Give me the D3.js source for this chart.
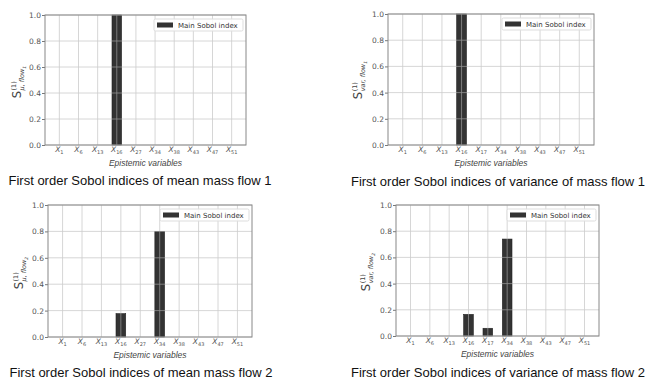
<!DOCTYPE html>
<html>
<head>
<meta charset="utf-8">
<script src="https://cdn.jsdelivr.net/npm/d3@7"></script>
<style>
  body { margin: 0; background: #fff; }
  svg { display: block; }
</style>
</head>
<body>
<div id="chart"></div>
<script>
// Category labels (subscript numbers of X)
const varsMean = ['1', '6', '13', '16', '27', '34', '38', '43', '47', '51'];
const varsVar = ['1', '6', '13', '16', '17', '34', '38', '43', '47', '51'];

// First order Sobol indices
const meanFlow1 = [0, 0, 0, 1.0, 0, 0, 0, 0, 0, 0];
const varFlow1 = [0, 0, 0, 1.0, 0, 0, 0, 0, 0, 0];
const meanFlow2 = [0, 0, 0, 0.177, 0, 0.80, 0, 0, 0, 0];
const varFlow2 = [0, 0, 0, 0.165, 0.059, 0.74, 0, 0, 0, 0];

const yTicks = [0, 0.2, 0.4, 0.6, 0.8, 1.0];
const legendLabel = 'Main Sobol index';
const xLabel = 'Epistemic variables';

const panels = [
  { cats: varsMean, values: meanFlow1, sub: 'μ, flow', subIdx: '1',
    title: 'First order Sobol indices of mean mass flow 1',
    box: { left: 45, right: 246, top: 15, bottom: 145 }, ylab: { x: 17, y: 82 }, titleX: 140, titleY: 185 },
  { cats: varsVar, values: varFlow1, sub: 'var, flow', subIdx: '1',
    title: 'First order Sobol indices of variance of mass flow 1',
    box: { left: 388, right: 594, top: 14, bottom: 145 }, ylab: { x: 358, y: 80 }, titleX: 498, titleY: 186 },
  { cats: varsMean, values: meanFlow2, sub: 'μ, flow', subIdx: '2',
    title: 'First order Sobol indices of mean mass flow 2',
    box: { left: 48, right: 252, top: 205, bottom: 337 }, ylab: { x: 19, y: 273 }, titleX: 141, titleY: 377 },
  { cats: varsVar, values: varFlow2, sub: 'var, flow', subIdx: '2',
    title: 'First order Sobol indices of variance of mass flow 2',
    box: { left: 396, right: 599, top: 205, bottom: 336 }, ylab: { x: 366, y: 272 }, titleX: 498, titleY: 377 }
];

const svg = d3.select('#chart').append('svg')
  .attr('width', 652)
  .attr('height', 381);

const tickFont = 'DejaVu Sans, sans-serif';

panels.forEach(p => {
  const b = p.box;
  const g = svg.append('g');

  const x = d3.scaleBand()
    .domain(p.cats)
    .range([b.left, b.right])
    .paddingInner(0.5)
    .paddingOuter(0.5);

  const y = d3.scaleLinear()
    .domain([0, 1])
    .range([b.bottom, b.top]);

  // bars
  g.selectAll('rect.bar')
    .data(p.values.map((v, i) => ({ cat: p.cats[i], v })))
    .enter()
    .append('rect')
    .attr('class', 'bar')
    .attr('x', d => x(d.cat))
    .attr('y', d => y(d.v))
    .attr('width', x.bandwidth())
    .attr('height', d => y(0) - y(d.v))
    .attr('fill', '#333333')
    .attr('stroke', '#222')
    .attr('stroke-width', 0.6);

  // grid (drawn over bars)
  const grid = g.append('g').attr('stroke', '#b8b8b8').attr('stroke-width', 0.8).attr('opacity', 0.7);
  p.cats.forEach(c => {
    const cx = x(c) + x.bandwidth() / 2;
    grid.append('line').attr('x1', cx).attr('x2', cx).attr('y1', b.top).attr('y2', b.bottom);
  });
  yTicks.forEach(t => {
    grid.append('line').attr('x1', b.left).attr('x2', b.right).attr('y1', y(t)).attr('y2', y(t));
  });

  // y axis
  const yAxis = g.append('g')
    .attr('transform', `translate(${b.left},0)`)
    .call(d3.axisLeft(y).tickValues(yTicks).tickFormat(d3.format('.1f')).tickSize(3).tickPadding(1));
  yAxis.select('.domain').remove();
  yAxis.selectAll('line').attr('stroke', '#777');
  yAxis.selectAll('text')
    .attr('font-family', tickFont)
    .attr('font-size', 7.5)
    .attr('fill', '#555');

  // x axis with math-style labels
  const xAxis = g.append('g')
    .attr('transform', `translate(0,${b.bottom})`)
    .call(d3.axisBottom(x).tickSize(0).tickPadding(2).tickFormat(''));
  xAxis.select('.domain').remove();
  xAxis.selectAll('.tick').each(function(c) {
    const t = d3.select(this).select('text')
      .attr('font-family', tickFont)
      .attr('font-size', 7.5)
      .attr('fill', '#555')
      .attr('text-anchor', 'middle');
    t.append('tspan').attr('font-style', 'italic').text('X');
    t.append('tspan').attr('font-size', 5).attr('dy', 1.5).text(c);
  });

  // frame
  g.append('rect')
    .attr('x', b.left).attr('y', b.top)
    .attr('width', b.right - b.left).attr('height', b.bottom - b.top)
    .attr('fill', 'none')
    .attr('stroke', '#888')
    .attr('stroke-width', 1);

  // legend
  const lg = g.append('g').attr('transform', `translate(${b.right - 92},${b.top + 4})`);
  lg.append('rect')
    .attr('width', 89).attr('height', 12)
    .attr('fill', '#fff').attr('fill-opacity', 0.85)
    .attr('stroke', '#ddd').attr('rx', 1.5);
  lg.append('rect')
    .attr('x', 3).attr('y', 3.5).attr('width', 16).attr('height', 5)
    .attr('fill', '#333');
  lg.append('text')
    .attr('x', 24).attr('y', 8.8)
    .attr('font-family', tickFont)
    .attr('font-size', 7)
    .attr('fill', '#333')
    .text(legendLabel);

  // x label
  g.append('text')
    .attr('x', (b.left + b.right) / 2)
    .attr('y', b.bottom + 21)
    .attr('text-anchor', 'middle')
    .attr('font-family', 'Liberation Sans, Arial, sans-serif')
    .attr('font-style', 'italic')
    .attr('font-size', 8.5)
    .attr('fill', '#444')
    .text(xLabel);

  // y label: S^(1)_{sub}
  const yl = g.append('g').attr('transform', `translate(${p.ylab.x},${p.ylab.y}) rotate(-90)`);
  const inner = yl.append('g');
  const s = inner.append('text')
    .attr('font-family', tickFont)
    .attr('font-size', 11.5)
    .attr('fill', '#444')
    .attr('y', 4)
    .text('S');
  const sw = s.node().getComputedTextLength();
  inner.append('text')
    .attr('x', sw + 0.5).attr('y', -1.5)
    .attr('font-family', tickFont)
    .attr('font-size', 6.5)
    .attr('fill', '#444')
    .text('(1)');
  const subT = inner.append('text')
    .attr('x', sw + 0.5).attr('y', 7)
    .attr('font-family', tickFont)
    .attr('font-size', 6.5)
    .attr('font-style', 'italic')
    .attr('fill', '#444');
  subT.append('tspan').text(p.sub);
  subT.append('tspan').attr('font-size', 4.5).attr('dy', 1.5).text(p.subIdx);
  const bb = inner.node().getBBox();
  inner.attr('transform', `translate(${-(bb.x + bb.width / 2)},0)`);

  // title
  g.append('text')
    .attr('x', p.titleX)
    .attr('y', p.titleY)
    .attr('text-anchor', 'middle')
    .attr('font-family', 'Liberation Sans, Arial, sans-serif')
    .attr('font-size', 13)
    .attr('fill', '#111')
    .text(p.title);
});
</script>
</body>
</html>
